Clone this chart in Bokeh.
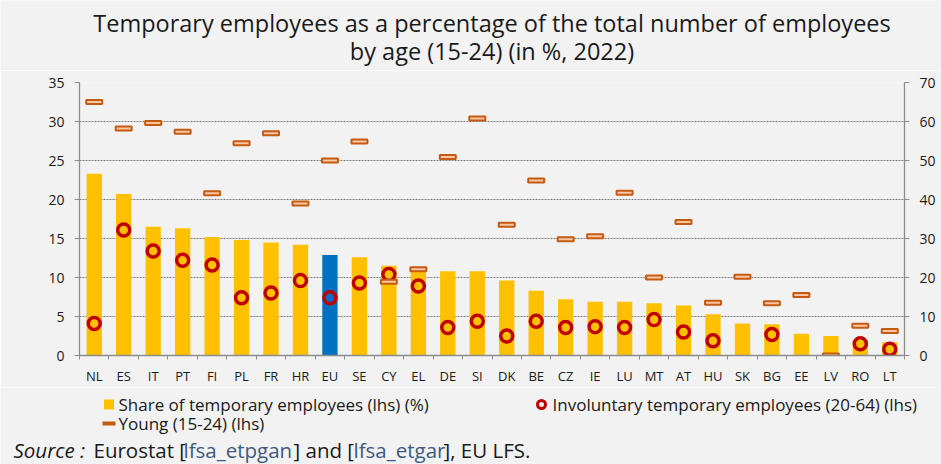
from bokeh.plotting import figure
from bokeh.layouts import column
from bokeh.models import Range1d, LinearAxis, FixedTicker, ColumnDataSource
from bokeh.core.properties import value
from bokeh.embed import file_html
from bokeh.resources import INLINE

# ---------------- data ----------------
countries = ["NL", "ES", "IT", "PT", "FI", "PL", "FR", "HR", "EU", "SE", "CY", "EL",
             "DE", "SI", "DK", "BE", "CZ", "IE", "LU", "MT", "AT", "HU", "SK", "BG",
             "EE", "LV", "RO", "LT"]
share_temporary = [23.3, 20.7, 16.5, 16.3, 15.2, 14.8, 14.5, 14.2, 12.9, 12.6, 11.5, 10.9,
                   10.8, 10.8, 9.6, 8.3, 7.2, 6.9, 6.9, 6.7, 6.4, 5.3, 4.1, 4.0,
                   2.8, 2.5, 2.0, 1.7]
involuntary_20_64 = [4.1, 16.1, 13.4, 12.2, 11.6, 7.4, 8.0, 9.6, 7.4, 9.3, 10.4, 8.9,
                     3.6, 4.4, 2.5, 4.4, 3.6, 3.7, 3.6, 4.6, 3.0, 1.9, float("nan"), 2.7,
                     float("nan"), float("nan"), 1.5, 0.8]
young_15_24 = [65.0, 58.2, 59.6, 57.4, 41.6, 54.4, 57.0, 39.0, 50.0, 54.9, 18.9, 22.1,
               50.9, 60.8, 33.5, 44.9, 29.8, 30.6, 41.7, 20.0, 34.2, 13.5, 20.2, 13.4,
               15.5, 0.0, 7.6, 6.3]
left_ticks = [0, 5, 10, 15, 20, 25, 30, 35]
right_ticks = [0, 10, 20, 30, 40, 50, 60, 70]
title_lines = ["Temporary employees as a percentage of the total number of employees",
               "by age (15-24) (in %, 2022)"]
legend_labels = ["Share of temporary employees (lhs) (%)",
                 "Involuntary temporary employees (20-64) (lhs)",
                 "Young (15-24) (lhs)"]
source_parts = ["Source :", "Eurostat [", "lfsa_etpgan", "] and [", "lfsa_etgar", "], EU LFS."]

# ---------------- style ----------------
FONT = "Open Sans"
BG = "#F2F2F2"
TXT = "#1A1A1A"
AXC = "#8C8C8C"
YELLOW = "#FFC000"
BLUE = "#0070C0"
RED = "#C00000"
ORANGE = "#C55A11"
LINK = "#3D5A80"
W = 941


def blank(height):
    f = figure(frame_width=W, frame_height=height, x_range=Range1d(0, W),
               y_range=Range1d(height, 0), output_backend="svg", toolbar_location=None,
               min_border=0, x_axis_location=None, y_axis_location=None,
               background_fill_color=BG, border_fill_color=BG, outline_line_color=None)
    f.grid.visible = False
    f.frame_align = False
    return f


# ---------------- header (title) ----------------
head = blank(70)
head.text(x=[491.5, 491.5], y=[22, 50], text=title_lines, text_align="center",
          text_baseline="middle", text_font=value(FONT), text_font_size="23.5px",
          text_color=TXT)

# ---------------- main chart ----------------
n = len(countries)
xc = [i + 0.5 for i in range(n)]
bar_colors = [BLUE if c == "EU" else YELLOW for c in countries]
src = ColumnDataSource(dict(x=xc, share=share_temporary, inv=involuntary_20_64,
                            young=young_15_24, color=bar_colors))

p = figure(frame_width=825, frame_height=273,
           x_range=Range1d(0, n), y_range=Range1d(left_ticks[0], left_ticks[-1]),
           output_backend="svg", toolbar_location=None,
           min_border_left=79, min_border_right=37, min_border_top=12, min_border_bottom=31,
           background_fill_color=BG, border_fill_color=BG, outline_line_color=None)
p.frame_align = False
p.extra_y_ranges = {"right": Range1d(right_ticks[0], right_ticks[-1])}

p.xgrid.visible = False
p.ygrid.ticker = FixedTicker(ticks=left_ticks[1:])
p.ygrid.grid_line_color = "#7F7F7F"
p.ygrid.grid_line_dash = "2 1"
p.ygrid.grid_line_width = 1

xa = p.xaxis[0]
xa.ticker = FixedTicker(ticks=xc, minor_ticks=list(range(n + 1)))
xa.major_label_overrides = {x: c for x, c in zip(xc, countries)}
xa.major_tick_line_color = None
xa.major_tick_in = 0
xa.major_tick_out = 0
xa.minor_tick_in = 0
xa.minor_tick_out = 4
xa.minor_tick_line_color = AXC
xa.axis_line_color = AXC
xa.axis_line_width = 1.3
xa.major_label_standoff = 7
xa.major_label_text_font = FONT
xa.major_label_text_font_size = "13px"
xa.major_label_text_color = TXT

ya = p.yaxis[0]
ya.ticker = FixedTicker(ticks=left_ticks)
ya.minor_tick_line_color = None
ya.major_tick_in = 0
ya.major_tick_out = 5
ya.major_tick_line_color = AXC
ya.axis_line_color = AXC
ya.axis_line_width = 1.3
ya.major_label_standoff = 10
ya.major_label_text_font = FONT
ya.major_label_text_font_size = "14px"
ya.major_label_text_color = TXT

yr = LinearAxis(y_range_name="right", ticker=FixedTicker(ticks=right_ticks))
yr.minor_tick_line_color = None
yr.major_tick_in = 0
yr.major_tick_out = 5
yr.major_tick_line_color = AXC
yr.axis_line_color = AXC
yr.axis_line_width = 1.3
yr.major_label_standoff = 10
yr.major_label_text_font = FONT
yr.major_label_text_font_size = "14px"
yr.major_label_text_color = TXT
p.add_layout(yr, "right")

p.vbar(x="x", top="share", width=0.52, fill_color="color", line_color=None, source=src)
p.scatter(x="x", y="inv", marker="circle", size=12, fill_alpha=0,
          line_color=RED, line_width=3.5, source=src)
p.rect(x="x", y="young", width=16, height=4, width_units="screen", height_units="screen",
       y_range_name="right", fill_color="#F7C7A6", line_color=ORANGE, line_width=2, source=src)

# ---------------- footer (legend + source) ----------------
foot = blank(78)
foot.rect(x=[108.5], y=[17], width=10, height=10, fill_color=YELLOW, line_color=None)
foot.rect(x=[108.5], y=[36], width=13, height=4, fill_color=ORANGE, line_color=None)
foot.scatter(x=[541], y=[17], marker="circle", size=8, fill_alpha=0,
             line_color=RED, line_width=3)
foot.text(x=[118, 552, 118], y=[17, 17, 36], text=legend_labels, text_align="left",
          text_baseline="middle", text_font=value(FONT), text_font_size="17px",
          text_color=TXT)
src_x = [13, 93, 183, 293, 353, 443]
src_color = [TXT, TXT, LINK, TXT, LINK, TXT]
src_style = ["italic", "normal", "normal", "normal", "normal", "normal"]
foot.text(x=src_x, y=[62] * len(src_x), text=source_parts, text_align="left",
          text_baseline="middle", text_font=value(FONT), text_font_size="20.5px",
          text_color=src_color, text_font_style=src_style)

layout = column(head, p, foot, spacing=0)
open("out.html", "w").write(file_html(layout, INLINE))
